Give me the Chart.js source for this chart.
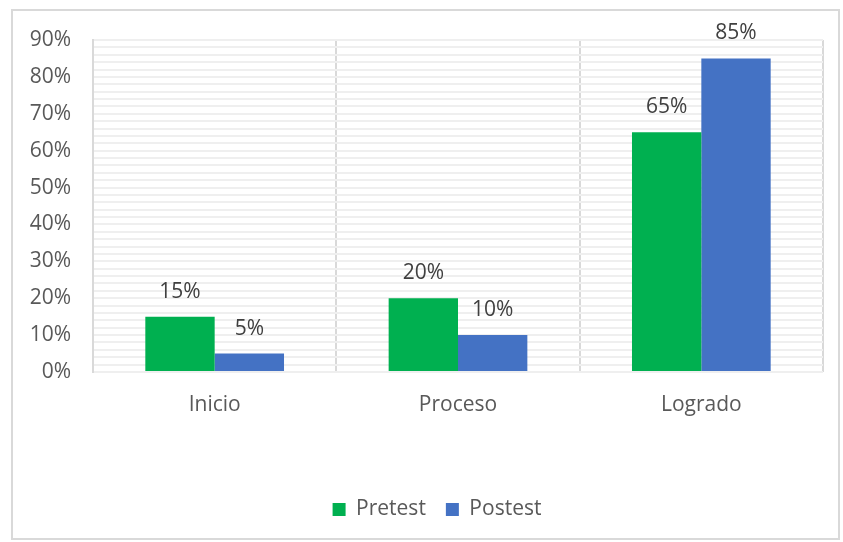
<!DOCTYPE html>
<html>
<head>
<meta charset="utf-8">
<script src="https://cdn.jsdelivr.net/npm/chart.js@4.4.0/dist/chart.umd.min.js"></script>
<style>
  html, body { margin: 0; padding: 0; background: #ffffff; }
  #wrap {
    position: absolute;
    left: 11px; top: 9px;
    width: 829px; height: 531px;
    border: 2px solid #d9d9d9;
    box-sizing: border-box;
  }
  #chart { display: block; }
</style>
</head>
<body>
<div id="wrap"><canvas id="chart" width="825" height="527"></canvas></div>
<script>
// Chart data
const categories = ['Inicio', 'Proceso', 'Logrado'];
const pretest = [15, 20, 65];
const postest = [5, 10, 85];
const seriesNames = ['Pretest', 'Postest'];

const textColor = '#595959';
const fontFamily = "'Open Sans', 'Noto Sans', sans-serif";

// Draw value labels above each bar
const valueLabels = {
    id: 'valueLabels',
    afterDatasetsDraw(chart) {
        const ctx = chart.ctx;
        ctx.save();
        ctx.font = '21px ' + fontFamily;
        ctx.fillStyle = '#404040';
        ctx.textAlign = 'center';
        ctx.textBaseline = 'middle';
        chart.data.datasets.forEach((ds, i) => {
            chart.getDatasetMeta(i).data.forEach((bar, j) => {
                ctx.fillText(ds.data[j] + '%', bar.x, bar.y - 25);
            });
        });
        ctx.restore();
    }
};

// Nudge the legend to the right, as in the original
const legendShift = {
    id: 'legendShift',
    afterLayout(chart) {
        chart.legend.left += 19;
        chart.legend.right += 19;
    }
};

const ctx = document.getElementById('chart').getContext('2d');
new Chart(ctx, {
    type: 'bar',
    data: {
        labels: categories,
        datasets: [
            {
                label: seriesNames[0],
                data: pretest,
                backgroundColor: '#00b050',
                categoryPercentage: 0.57,
                barPercentage: 1.0
            },
            {
                label: seriesNames[1],
                data: postest,
                backgroundColor: '#4472c4',
                categoryPercentage: 0.57,
                barPercentage: 1.0
            }
        ]
    },
    options: {
        responsive: false,
        animation: false,
        layout: {
            padding: { top: 29, left: 0, right: 15, bottom: 8 }
        },
        plugins: {
            legend: {
                position: 'bottom',
                labels: {
                    boxWidth: 13,
                    boxHeight: 13,
                    padding: 20,
                    color: textColor,
                    font: { family: fontFamily, size: 21 }
                }
            },
            tooltip: { enabled: false }
        },
        scales: {
            x: {
                z: 1,
                grid: {
                    offset: true,
                    color: '#d9d9d9',
                    lineWidth: 2,
                    drawTicks: false
                },
                border: { display: false },
                ticks: {
                    color: textColor,
                    padding: 20,
                    font: { family: fontFamily, size: 21 }
                },
                afterFit(scale) {
                    scale.height = 107;
                }
            },
            y: {
                min: 0,
                max: 90,
                grid: {
                    color: '#efefef',
                    lineWidth: 2,
                    drawTicks: false
                },
                border: { display: true, color: '#d9d9d9', width: 2 },
                ticks: {
                    stepSize: 2,
                    autoSkip: false,
                    padding: 22,
                    color: textColor,
                    font: { family: fontFamily, size: 21 },
                    callback: v => (v % 10 === 0 ? v + '%' : '')
                },
                afterFit(scale) {
                    scale.width = 80;
                    scale.paddingTop = 0;
                    scale.paddingBottom = 0;
                }
            }
        }
    },
    plugins: [valueLabels, legendShift]
});
</script>
</body>
</html>
